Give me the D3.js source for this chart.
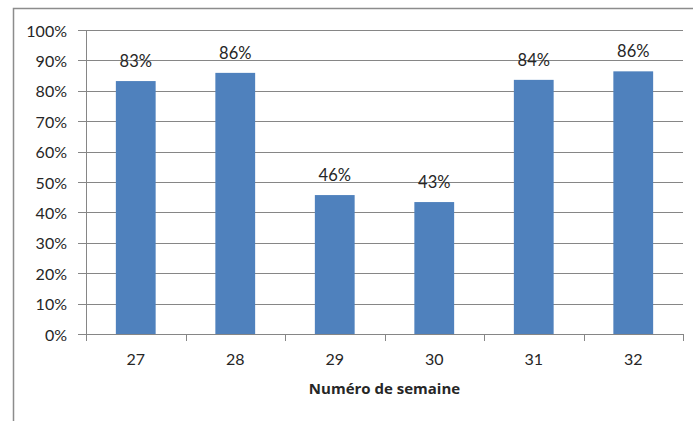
<!DOCTYPE html>
<html><head><meta charset="utf-8">
<script src="https://cdn.jsdelivr.net/npm/d3@7"></script>
<style>body{margin:0;background:#fff}svg{display:block}</style>
</head><body>
<script>
const categories = ["27","28","29","30","31","32"];
const values = [0.832, 0.859, 0.457, 0.434, 0.836, 0.864];
const labels = ["83%","86%","46%","43%","84%","86%"];
const yTicks = [0,0.1,0.2,0.3,0.4,0.5,0.6,0.7,0.8,0.9,1.0];
const xTitle = "Numéro de semaine";

const W=693,H=421;
const svg=d3.select("body").append("svg").attr("width",W).attr("height",H);
svg.append("rect").attr("width",W).attr("height",H).attr("fill","#fff");
// outer frame
svg.append("path").attr("d",`M13.5,${H} V8.5 H${W}`).attr("fill","none").attr("stroke","#8c8c8c").attr("stroke-width",1.5);

const L=86,R=683,T=30,B=334;
const x=d3.scaleBand().domain(categories).range([L,R]).paddingInner(0.6).paddingOuter(0.3);
const xb=d3.scaleBand().domain(categories).range([L,R]);
const y=d3.scaleLinear().domain([0,1]).range([B,T]);
const font="Lato, 'Open Sans', sans-serif";

// gridlines
svg.append("g").selectAll("line").data(yTicks).join("line")
  .attr("x1",L-8).attr("x2",R).attr("y1",d=>Math.round(y(d))+0.5).attr("y2",d=>Math.round(y(d))+0.5)
  .attr("stroke","#868686").attr("stroke-width",1);
// y axis line
svg.append("line").attr("x1",L+0.5).attr("x2",L+0.5).attr("y1",T).attr("y2",B).attr("stroke","#868686");
// y labels
svg.append("g").selectAll("text").data(yTicks).join("text")
  .attr("x",67).attr("y",d=>y(d)+6.5).attr("text-anchor","end")
  .attr("font-family",font).attr("font-size",16).attr("fill","#262626")
  .text(d=>d3.format(".0%")(d));
// x ticks
const bounds=categories.map(c=>xb(c)).concat([R]);
svg.append("g").selectAll("line").data(bounds).join("line")
  .attr("x1",d=>Math.round(d)+0.5).attr("x2",d=>Math.round(d)+0.5).attr("y1",B).attr("y2",B+7)
  .attr("stroke","#868686");
// bars
svg.append("g").selectAll("rect").data(values).join("rect")
  .attr("x",(d,i)=>x(categories[i])).attr("width",x.bandwidth())
  .attr("y",d=>y(d)).attr("height",d=>B-y(d)).attr("fill","#4F81BD");
// bottom axis line over bars
svg.append("line").attr("x1",L).attr("x2",R).attr("y1",B+0.5).attr("y2",B+0.5).attr("stroke","#868686");
// data labels
svg.append("g").selectAll("text").data(values).join("text")
  .attr("x",(d,i)=>x(categories[i])+x.bandwidth()/2).attr("y",d=>y(d)-14)
  .attr("text-anchor","middle").attr("font-family",font).attr("font-size",16.5).attr("fill","#262626")
  .text((d,i)=>labels[i]);
// x labels
svg.append("g").selectAll("text").data(categories).join("text")
  .attr("x",d=>xb(d)+xb.bandwidth()/2).attr("y",365).attr("text-anchor","middle")
  .attr("font-family",font).attr("font-size",16).attr("fill","#262626").text(d=>d);
// x title
svg.append("text").attr("x",(L+R)/2).attr("y",394).attr("text-anchor","middle")
  .attr("font-family","'Open Sans', sans-serif").attr("font-size",15).attr("font-weight","bold").attr("fill","#262626").text(xTitle);
</script>
</body></html>
